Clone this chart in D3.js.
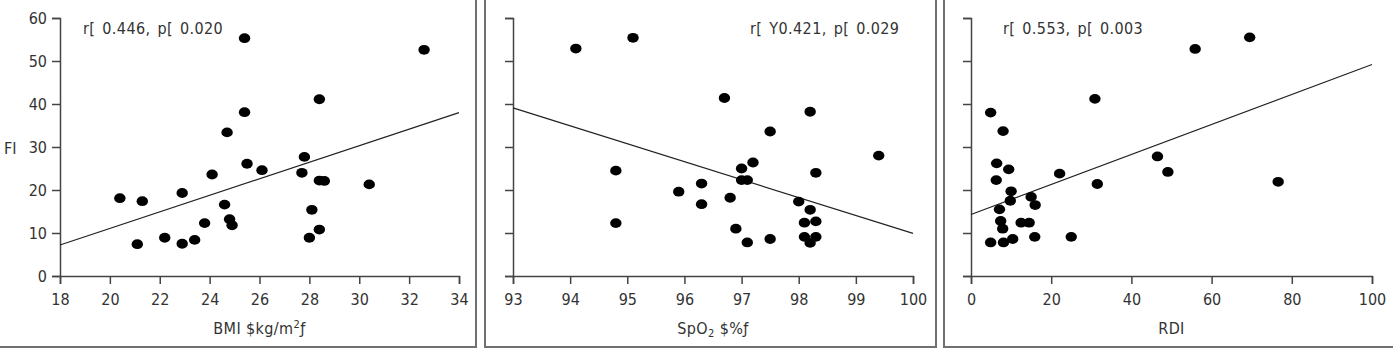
<!DOCTYPE html>
<html>
<head>
<meta charset="utf-8">
<script src="https://cdn.jsdelivr.net/npm/d3@7"></script>
<style>
  body { margin: 0; background: #fff; }
  svg text { font-family: "DejaVu Sans Condensed", "DejaVu Sans", sans-serif; font-stretch: condensed; fill: #333; }
</style>
</head>
<body>
<div id="chart"></div>
<script>
// FI values per subject, paired with each predictor
const bmi = [20.4, 21.3, 21.1, 22.2, 22.9, 22.9, 23.4, 23.8, 24.1, 24.6, 24.7, 24.8, 24.9, 25.4, 25.4, 25.5, 26.1, 27.8, 27.7, 28.4, 28.4, 28.6, 28.1, 28.0, 28.4, 30.4, 32.6];
const fiBmi = [18.1, 17.4, 7.4, 8.9, 19.3, 7.5, 8.4, 12.3, 23.6, 16.6, 33.4, 13.2, 11.8, 55.3, 38.1, 26.1, 24.6, 27.7, 24.0, 41.1, 22.2, 22.1, 15.4, 8.9, 10.8, 21.3, 52.6];

const spo2 = [94.1, 95.1, 94.8, 94.8, 95.9, 96.3, 96.3, 96.7, 96.8, 96.9, 97.0, 97.0, 97.1, 97.1, 97.2, 97.5, 97.5, 98.0, 98.2, 98.2, 98.1, 98.3, 98.1, 98.3, 98.2, 98.3, 99.4];
const fiSpo2 = [52.9, 55.4, 24.5, 12.3, 19.6, 21.5, 16.7, 41.4, 18.2, 11.0, 25.0, 22.3, 22.3, 7.8, 26.4, 33.6, 8.6, 17.3, 38.2, 15.4, 12.4, 12.7, 9.1, 9.1, 7.7, 24.0, 28.0];

const rdi = [4.9, 8.0, 6.4, 9.4, 6.3, 10.0, 9.8, 7.1, 7.4, 7.9, 4.9, 8.1, 10.4, 12.5, 14.5, 15.0, 16.0, 15.9, 22.1, 25.0, 30.9, 31.5, 46.5, 49.1, 55.9, 69.5, 76.6];
const fiRdi = [38.0, 33.7, 26.2, 24.8, 22.3, 19.7, 17.5, 15.5, 12.8, 11.0, 7.8, 7.8, 8.6, 12.4, 12.4, 18.4, 16.5, 9.1, 23.8, 9.1, 41.2, 21.4, 27.8, 24.2, 52.8, 55.5, 21.9];

// regression line ends [x, y]
const fitBmi = [[18, 7.2], [34, 38.0]];
const fitSpo2 = [[93, 39.1], [100, 9.9]];
const fitRdi = [[0, 14.3], [100, 49.2]];

const xTicksBmi = [18, 20, 22, 24, 26, 28, 30, 32, 34];
const xTicksSpo2 = [93, 94, 95, 96, 97, 98, 99, 100];
const xTicksRdi = [0, 20, 40, 60, 80, 100];
const yTicks = [0, 10, 20, 30, 40, 50, 60];

const statsBmi = "r[ 0.446, p[ 0.020";
const statsSpo2 = "r[ Y0.421, p[ 0.029";
const statsRdi = "r[ 0.553, p[ 0.003";

const W = 1393, H = 349;
const svg = d3.select("#chart").append("svg")
  .attr("width", W).attr("height", H);

const panels = [
  { box: [-5, 476], plot: [60, 459], xs: bmi, ys: fiBmi, fit: fitBmi, dom: [18, 34], ticks: xTicksBmi,
    stats: statsBmi, statsX: 83, yLabels: true, xlab: ["BMI $kg/m", "2", "ƒ"], sub: false },
  { box: [485, 936], plot: [513, 913], xs: spo2, ys: fiSpo2, fit: fitSpo2, dom: [93, 100], ticks: xTicksSpo2,
    stats: statsSpo2, statsX: 750, yLabels: false, xlab: ["SpO", "2", " $%ƒ"], sub: true },
  { box: [944, 1400], plot: [971, 1372], xs: rdi, ys: fiRdi, fit: fitRdi, dom: [0, 100], ticks: xTicksRdi,
    stats: statsRdi, statsX: 1003, yLabels: false, xlab: ["RDI"], sub: false }
];

const y = d3.scaleLinear().domain([0, 60]).range([276, 18]);

panels.forEach(p => {
  svg.append("rect")
    .attr("x", p.box[0]).attr("y", -1)
    .attr("width", p.box[1] - p.box[0]).attr("height", 348)
    .attr("fill", "none").attr("stroke", "#707070").attr("stroke-width", 2);

  const x = d3.scaleLinear().domain(p.dom).range(p.plot);
  const g = svg.append("g");

  const xAxis = g.append("g")
    .attr("transform", `translate(0, ${y(0)})`)
    .call(d3.axisBottom(x).tickValues(p.ticks).tickSize(8).tickSizeOuter(8).tickPadding(10)
      .tickFormat(d3.format("d")));

  const yAxis = g.append("g")
    .attr("transform", `translate(${p.plot[0]}, 0)`)
    .call(d3.axisLeft(y).tickValues(yTicks).tickSize(8).tickSizeOuter(8).tickPadding(5)
      .tickFormat(p.yLabels ? d3.format("d") : ""));

  [xAxis, yAxis].forEach(a => {
    a.selectAll("path, line").attr("stroke", "#444").attr("stroke-width", 1.5);
    a.selectAll("text").attr("font-size", 16).attr("fill", "#333")
      .style("font-family", '"DejaVu Sans Condensed", "DejaVu Sans", sans-serif');
  });

  g.append("path")
    .datum(p.fit)
    .attr("fill", "none").attr("stroke", "#222").attr("stroke-width", 1.2)
    .attr("d", d3.line().x(d => x(d[0])).y(d => y(d[1])));

  g.selectAll(".dot")
    .data(p.xs.map((v, i) => [v, p.ys[i]]))
    .join("ellipse")
      .attr("cx", d => x(d[0])).attr("cy", d => y(d[1]))
      .attr("rx", 5.7).attr("ry", 4.9)
      .attr("fill", "#000");

  g.append("text")
    .attr("x", p.statsX).attr("y", 34)
    .attr("font-size", 16)
    .attr("word-spacing", 2)
    .attr("letter-spacing", 0.4)
    .text(p.stats);

  const lab = g.append("text")
    .attr("x", (p.plot[0] + p.plot[1]) / 2).attr("y", 334)
    .attr("text-anchor", "middle")
    .attr("font-size", 16)
    .attr("letter-spacing", 0.4);
  lab.append("tspan").text(p.xlab[0]);
  if (p.xlab.length > 1) {
    lab.append("tspan").attr("font-size", 11).attr("dy", p.sub ? 3 : -6).text(p.xlab[1]);
    lab.append("tspan").attr("dy", p.sub ? -3 : 6).text(p.xlab[2]);
  }

  if (p.yLabels) {
    g.append("text")
      .attr("x", 4).attr("y", y(30) + 7)
      .attr("font-size", 16)
      .text("FI");
  }
});
</script>
</body>
</html>
